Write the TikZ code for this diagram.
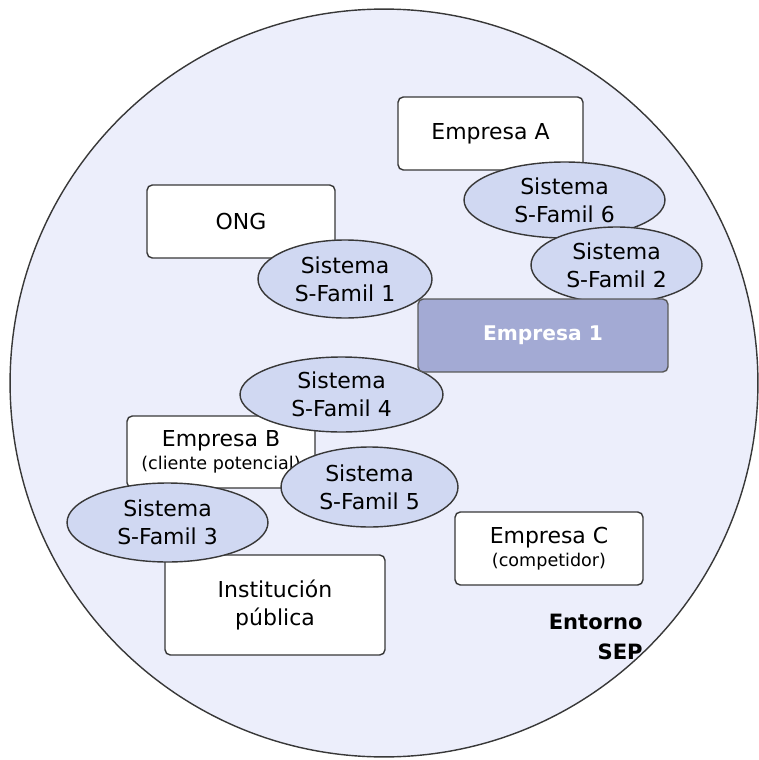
\documentclass[tikz,border=0pt]{standalone}
\usepackage{fontspec}
\setmainfont{DejaVu Sans}
\usetikzlibrary{shapes.geometric}
\usepackage{xcolor}
\definecolor{fondo}{RGB}{236,238,251}
\definecolor{azulsis}{RGB}{208,216,242}
\definecolor{azulemp}{RGB}{163,170,212}
\colorlet{borde}{black!78}
\tikzstyle{caja}=[draw=borde,line width=0.8pt,fill=white,rounded corners=3pt,align=center,inner sep=0,font=\fontsize{12.5}{16}\selectfont]
\tikzstyle{sis}=[ellipse,draw=borde,line width=0.8pt,fill=azulsis,align=center,inner sep=0,font=\fontsize{12.5}{16}\selectfont]
\tikzstyle{principal}=[caja,fill=azulemp,draw=black!65,text=white,font=\fontsize{11.5}{14}\selectfont\bfseries]
\newcommand{\peq}{\fontsize{10}{12}\selectfont}

\begin{document}
\begin{tikzpicture}[x=0.02cm,y=-0.02cm]
    \useasboundingbox (0,0) rectangle (758,760);
    \node[circle,draw=borde,line width=0.8pt,fill=fondo,minimum size=14.96cm,inner sep=0] (entorno) at (384,383) {};

    % organizaciones
    \node[caja,minimum width=3.70cm,minimum height=1.46cm] (empA) at (490.5,133.5) {Empresa A};
    \node[caja,minimum width=3.76cm,minimum height=1.46cm] (ong) at (241,221.5) {ONG};
    \node[caja,minimum width=3.76cm,minimum height=1.44cm] (empB) at (221,452) {Empresa B\\[-3pt]{\peq (cliente potencial)}};
    \node[caja,minimum width=3.76cm,minimum height=1.46cm] (empC) at (549,548.5) {Empresa C\\[-3pt]{\peq (competidor)}};
    \node[caja,minimum width=4.40cm,minimum height=2.00cm] (inst) at (275,605) {Institución\\pública};

    % sistemas
    \node[sis,minimum width=4.02cm,minimum height=1.52cm] (sf6) at (564.5,200) {Sistema\\S-Famil 6};
    \node[sis,minimum width=3.42cm,minimum height=1.52cm] (sf2) at (616.5,265) {Sistema\\S-Famil 2};
    \node[sis,minimum width=3.48cm,minimum height=1.56cm] (sf1) at (345,279) {Sistema\\S-Famil 1};
    \node[sis,minimum width=4.06cm,minimum height=1.50cm] (sf4) at (341.5,394.5) {Sistema\\S-Famil 4};

    \node[principal,minimum width=5.00cm,minimum height=1.46cm] (emp1) at (543,335.5) {Empresa 1};

    \node[sis,minimum width=4.02cm,minimum height=1.58cm] (sf3) at (167.5,522.5) {Sistema\\S-Famil 3};
    \node[sis,minimum width=3.54cm,minimum height=1.60cm] (sf5) at (369.5,487) {Sistema\\S-Famil 5};

    \node[anchor=east,align=right,inner sep=0,font=\fontsize{12}{17}\selectfont\bfseries] (etiqueta) at (643,637) {Entorno\\SEP};
\end{tikzpicture}
\end{document}
